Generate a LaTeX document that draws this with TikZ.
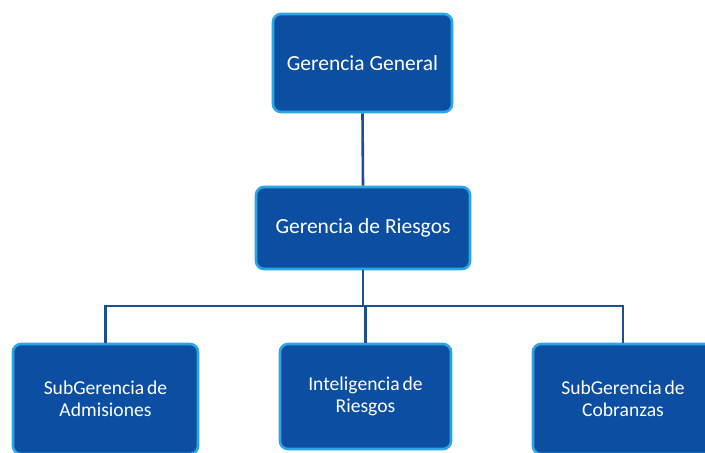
\documentclass[tikz,border=0pt]{standalone}
\usepackage{fontspec}
\setmainfont{Carlito}
\definecolor{boxfill}{HTML}{0B4EA2}
\definecolor{boxedge}{HTML}{2BA6E3}
\definecolor{linkcol}{HTML}{1D4F94}
\tikzset{
  orgbox/.style={draw=boxedge, line width=2.6pt, fill=boxfill, rounded corners=8pt,
    text=white, align=center, inner sep=0pt},
  toptext/.style={font=\fontsize{21.5}{25}\selectfont},
  subtext/.style={font=\fontsize{19.6}{21.5}\selectfont},
  link/.style={draw=linkcol, line width=2.6pt}
}
\begin{document}
\begin{tikzpicture}[x=1pt,y=-1pt]
\useasboundingbox (0,0) rectangle (705,453);
\clip (0,0) rectangle (705,453);
\fill[white] (0,0) rectangle (705,453);
\coordinate (bus) at (0,306);
\node[orgbox, toptext, minimum width=179pt, minimum height=98pt] (gg) at (362.5,63) {Gerencia General};
\node[orgbox, toptext, minimum width=214pt, minimum height=82pt] (gr) at (363,228) {Gerencia de Riesgos};
\node[orgbox, subtext, minimum width=185pt, minimum height=110pt] (adm) at (105.5,399) {SubGerencia\kern-1.5pt{} de\\Admisiones};
\node[orgbox, subtext, minimum width=171pt, minimum height=105pt] (intel) at (365.5,396.5) {Inteligencia\kern-1.5pt{} de\\Riesgos};
\node[orgbox, subtext, minimum width=180pt, minimum height=110pt] (cob) at (623,399) {SubGerencia\kern-1.5pt{} de\\Cobranzas};
\draw[link] (gg.south) -- (gr.north);
\draw[link] (gr.south) -- (gr.south |- bus);
\draw[link] (adm.north) -- (adm.north |- bus) -- (cob.north |- bus) -- (cob.north);
\draw[link] (intel.north) -- (intel.north |- bus);
\end{tikzpicture}
\end{document}
